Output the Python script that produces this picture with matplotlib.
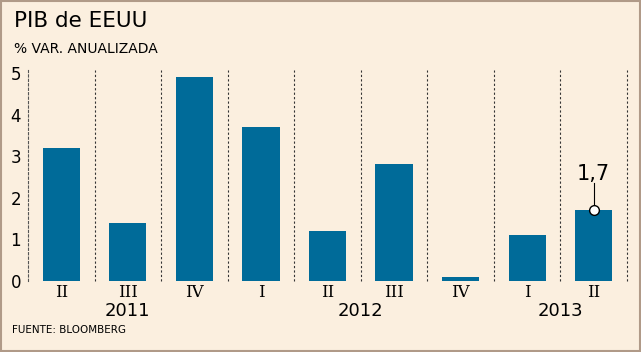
import matplotlib.pyplot as plt
import numpy as np
from matplotlib.patches import Rectangle

quarters = ['II', 'III', 'IV', 'I', 'II', 'III', 'IV', 'I', 'II']
values = [3.2, 1.4, 4.9, 3.7, 1.2, 2.8, 0.1, 1.1, 1.7]
years = ['2011', '2012', '2013']
year_pos = [1, 4.5, 7.5]

BG = '#fbefdf'
BAR = '#006b99'

fig = plt.figure(figsize=(6.41, 3.52), dpi=100, facecolor=BG)
ax = fig.add_axes([28 / 641, 1 - 281 / 352, 599 / 641, 211 / 352])
ax.set_facecolor(BG)

x = np.arange(len(values))
ax.bar(x, values, 0.56, color=BAR, zorder=2)

ax.set_xlim(-0.5, len(values) - 0.5)
ax.set_ylim(0, 5.07)
for s in ['top', 'right', 'bottom']:
    ax.spines[s].set_visible(False)
ax.spines['left'].set_linestyle((0, (2, 2)))
ax.spines['left'].set_color('#555555')
ax.spines['left'].set_linewidth(0.8)

for xv in np.arange(0.5, len(values), 1):
    ax.axvline(xv, color='#333333', lw=0.8, ls=(0, (2, 2)), zorder=1,
               clip_on=False)

ax.set_yticks(range(6))
ax.set_yticklabels([str(i) for i in range(6)], fontsize=12)
ax.tick_params(axis='y', length=0, pad=5)
ax.set_xticks(x)
ax.set_xticklabels(quarters, fontsize=12, family='DejaVu Serif')
ax.tick_params(axis='x', length=0, pad=2)

for yr, pos in zip(years, year_pos):
    ax.text(pos, -0.5, yr, ha='center', va='top', fontsize=13,
            clip_on=False)

# last value callout
last = len(values) - 1
ax.plot([last, last], [values[last], values[last] + 0.65], color='black',
        lw=0.8, zorder=3, clip_on=False)
ax.plot(last, values[last], 'o', ms=7, mfc='white', mec='black', mew=1,
        zorder=4, clip_on=False)
ax.text(last, values[last] + 0.62, '1,7', ha='center', va='bottom',
        fontsize=15, clip_on=False)

fig.text(14 / 641, 1 - 21 / 352, 'PIB de EEUU', fontsize=15.5, va='center')
fig.text(14 / 641, 1 - 49 / 352, '% VAR. ANUALIZADA', fontsize=10,
         va='center')
fig.text(12 / 641, 1 - 330 / 352, 'FUENTE: BLOOMBERG', fontsize=7.5,
         va='center')

fig.patches.append(Rectangle((0.002, 0.003), 0.996, 0.994,
                             transform=fig.transFigure, fill=False,
                             edgecolor='#b09a88', lw=1.5))

fig.savefig('out.png', dpi=100, facecolor=BG)
